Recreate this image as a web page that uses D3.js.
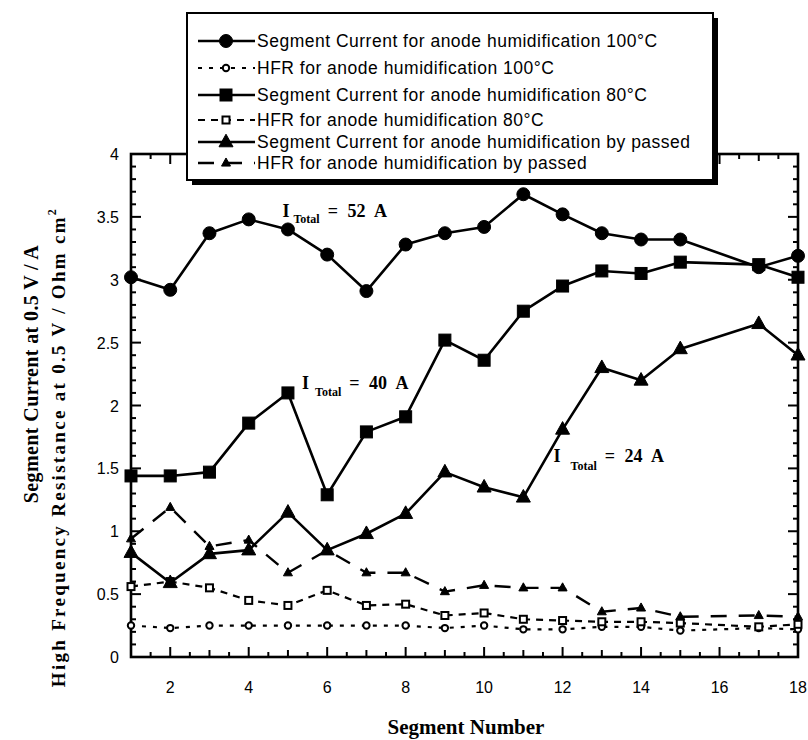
<!DOCTYPE html>
<html><head><meta charset="utf-8">
<script src="https://cdn.jsdelivr.net/npm/d3@7"></script>
<style>body{margin:0;background:#fff}svg{display:block}</style>
</head><body>
<svg id="c" width="808" height="740"></svg>
<script>
const segments = [1,2,3,4,5,6,7,8,9,10,11,12,13,14,15,17,18];
const cur100 = [3.02,2.92,3.37,3.48,3.40,3.20,2.91,3.28,3.37,3.42,3.68,3.52,3.37,3.32,3.32,3.10,3.19];
const hfr100 = [0.25,0.23,0.25,0.25,0.25,0.25,0.25,0.25,0.23,0.25,0.22,0.22,0.24,0.24,0.21,0.23,0.22];
const cur80  = [1.44,1.44,1.47,1.86,2.10,1.29,1.79,1.91,2.52,2.36,2.75,2.95,3.07,3.05,3.14,3.12,3.02];
const hfr80  = [0.56,0.60,0.55,0.45,0.41,0.53,0.41,0.42,0.33,0.35,0.30,0.29,0.28,0.28,0.27,0.24,0.26];
const curBy  = [0.83,0.59,0.82,0.85,1.15,0.85,0.98,1.14,1.47,1.35,1.27,1.81,2.30,2.20,2.45,2.65,2.40];
const hfrBy  = [0.94,1.19,0.88,0.93,0.67,0.85,0.67,0.67,0.52,0.57,0.55,0.55,0.36,0.39,0.32,0.33,0.32];
const xTickLabels = [2,4,6,8,10,12,14,16,18];
const yTickLabels = [0,0.5,1,1.5,2,2.5,3,3.5,4];
const legendLabels = [
  "Segment Current for anode humidification 100\u00B0C",
  "HFR for anode humidification 100\u00B0C",
  "Segment Current for anode humidification 80\u00B0C",
  "HFR for anode humidification 80\u00B0C",
  "Segment Current for anode humidification by passed",
  "HFR for anode humidification by passed"
];
const annotations = [
  {seg: 4.86, val: 3.50, value: "= 52 A", gap: 4, sub: 6},
  {seg: 5.36, val: 2.13, value: "= 40 A", gap: 6, sub: 7},
  {seg: 11.77, val: 1.55, value: "= 24 A", gap: 10, sub: 8}
];

const svg = d3.select("#c");
const L = 131, R = 798, T = 154, B = 657;
const x = d3.scaleLinear().domain([1,18]).range([L,R]);
const y = d3.scaleLinear().domain([0,4]).range([B,T]);

const series = [
  {vals: cur100, marker: "circle", size: 6.5, fill: "#000", dash: null, w: 2.6},
  {vals: hfr100, marker: "circle", size: 3.2, fill: "#fff", dash: "4,7", w: 2.2},
  {vals: cur80, marker: "square", size: 12, fill: "#000", dash: null, w: 2.6},
  {vals: hfr80, marker: "square", size: 7, fill: "#fff", dash: "7,6", w: 2.2},
  {vals: curBy, marker: "triangle", size: 14, fill: "#000", dash: null, w: 2.6},
  {vals: hfrBy, marker: "triangle", size: 9, fill: "#000", dash: "16,12", w: 2.4}
];

function drawMarker(g, s, cx, cy) {
  if (s.marker === "circle") {
    g.append("circle").attr("cx", cx).attr("cy", cy).attr("r", s.size)
      .attr("fill", s.fill).attr("stroke", "#000").attr("stroke-width", s.fill === "#fff" ? 2 : 1);
  } else if (s.marker === "square") {
    g.append("rect").attr("x", cx - s.size/2).attr("y", cy - s.size/2)
      .attr("width", s.size).attr("height", s.size)
      .attr("fill", s.fill).attr("stroke", "#000").attr("stroke-width", s.fill === "#fff" ? 2 : 1);
  } else {
    const h = s.size * 0.9, hw = s.size / 2;
    g.append("path").attr("d", `M${cx},${cy - h*0.62}L${cx+hw},${cy + h*0.38}L${cx-hw},${cy + h*0.38}Z`)
      .attr("fill", s.fill).attr("stroke", "#000").attr("stroke-width", 1);
  }
}

// axes
const ax = svg.append("g");
const xMinor = d3.range(1, 18.01, 0.5);
const yMinor = d3.range(0, 4.001, 0.1);
function xLen(v){ return (Math.abs(v % 2) < 1e-6) ? 10 : (Math.abs(v % 1) < 1e-6 ? 7 : 5); }
function yLen(v){ return (Math.abs(Math.round(v*10) % 5) === 0) ? 10 : 5; }
xMinor.forEach(v => {
  ax.append("line").attr("x1", x(v)).attr("x2", x(v)).attr("y1", B).attr("y2", B - xLen(v)).attr("stroke","#000").attr("stroke-width",2);
  ax.append("line").attr("x1", x(v)).attr("x2", x(v)).attr("y1", T).attr("y2", T + xLen(v)).attr("stroke","#000").attr("stroke-width",2);
});
yMinor.forEach(v => {
  ax.append("line").attr("x1", L).attr("x2", L + yLen(v)).attr("y1", y(v)).attr("y2", y(v)).attr("stroke","#000").attr("stroke-width",2);
  ax.append("line").attr("x1", R).attr("x2", R - yLen(v)).attr("y1", y(v)).attr("y2", y(v)).attr("stroke","#000").attr("stroke-width",2);
});
ax.append("rect").attr("x", L).attr("y", T).attr("width", R - L).attr("height", B - T)
  .attr("fill", "none").attr("stroke", "#000").attr("stroke-width", 2.6);

xTickLabels.forEach(v => {
  ax.append("text").attr("x", x(v)).attr("y", B + 36).attr("text-anchor", "middle")
    .attr("font-family", "Liberation Sans, Arial, sans-serif").attr("font-size", 16).text(v);
});
yTickLabels.forEach(v => {
  ax.append("text").attr("x", L - 12).attr("y", y(v) + 6).attr("text-anchor", "end")
    .attr("font-family", "Liberation Sans, Arial, sans-serif").attr("font-size", 16).text(v);
});

// axis titles
const serif = "Liberation Serif, Times New Roman, serif";
svg.append("text").attr("transform", "translate(38,374) rotate(-90)").attr("text-anchor","middle")
  .attr("font-family", serif).attr("font-weight","bold").attr("font-size",20)
  .attr("letter-spacing", 0.4)
  .text("Segment Current at 0.5 V / A");
const t2 = svg.append("text").attr("transform", "translate(65,447) rotate(-90)").attr("text-anchor","middle")
  .attr("font-family", serif).attr("font-weight","bold").attr("font-size",19)
  .attr("letter-spacing", 2.3);
t2.append("tspan").text("High Frequency Resistance at 0.5 V / Ohm cm");
t2.append("tspan").attr("dy",-9).attr("font-size",12).text("2");
svg.append("text").attr("x", 466).attr("y", 734).attr("text-anchor","middle")
  .attr("font-family", serif).attr("font-weight","bold").attr("font-size",21).text("Segment Number");

// series
const line = d3.line().x(d => x(d[0])).y(d => y(d[1]));
series.forEach(s => {
  const pts = segments.map((sg,i) => [sg, s.vals[i]]);
  svg.append("path").datum(pts).attr("d", line).attr("fill","none").attr("stroke","#000")
    .attr("stroke-width", s.w).attr("stroke-dasharray", s.dash).attr("stroke-linejoin","round");
  const g = svg.append("g");
  pts.forEach(p => drawMarker(g, s, x(p[0]), y(p[1])));
});

// annotations
annotations.forEach(a => {
  const t = svg.append("text").attr("x", x(a.seg)).attr("y", y(a.val))
    .attr("font-family", serif).attr("font-weight","bold").attr("font-size",18)
    .attr("word-spacing", 5);
  t.append("tspan").text("I");
  t.append("tspan").attr("dx", a.gap).attr("dy", a.sub).attr("font-size",12).text("Total");
  t.append("tspan").attr("dx", 8).attr("dy", -a.sub).text(a.value);
});

// legend
const lg = svg.append("g");
lg.append("rect").attr("x", 192).attr("y", 18).attr("width", 526).attr("height", 167).attr("fill","#000");
lg.append("rect").attr("x", 187).attr("y", 13).attr("width", 526).attr("height", 167)
  .attr("fill","#fff").attr("stroke","#000").attr("stroke-width",2);
const rowY = [41, 68, 95, 120, 142, 163];
legendLabels.forEach((lab, i) => {
  const s = series[i];
  const yy = rowY[i];
  lg.append("line").attr("x1", 198).attr("x2", 255).attr("y1", yy).attr("y2", yy)
    .attr("stroke","#000").attr("stroke-width", s.w).attr("stroke-dasharray", s.dash);
  drawMarker(lg, s, 226, yy);
  lg.append("text").attr("x", 257).attr("y", yy + 6)
    .attr("font-family", "Liberation Sans, Arial, sans-serif").attr("font-size", 17.5)
    .attr("letter-spacing", 0.5).text(lab);
});
</script>
</body></html>
